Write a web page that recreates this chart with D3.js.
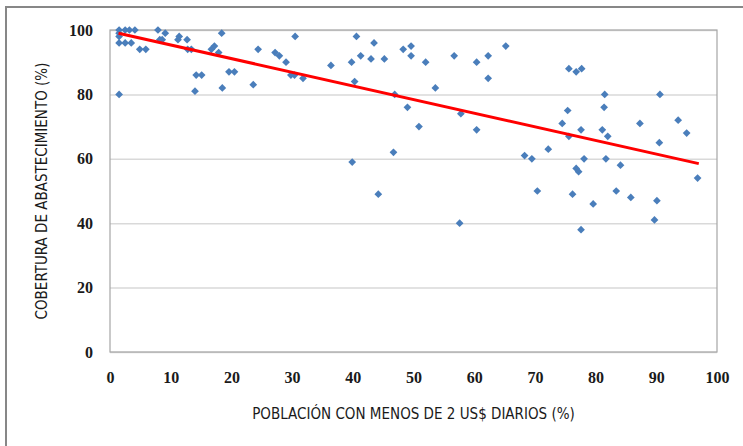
<html>
  <head>
    <title>Cobertura vs pobreza</title>
  <style type="text/css">
    body{
      margin: 0;
      background: white;
    }
    .tick_label{
      font-family: "Liberation Serif", serif;
      font-weight: bold;
      font-size: 16px;
      fill: #1a1a1a;
    }
    .axis_title{
      font-family: "Liberation Sans Narrow", "DejaVu Sans Condensed", sans-serif;
      font-size: 15px;
      fill: #1a1a1a;
    }
  </style>
  </head>
  <body>
    <script src="https://d3js.org/d3.v7.min.js"></script>
    <div id="graph_item"></div>
    <script>

// values
var pobreza = [1.5, 2.5, 3.2, 4.1, 1.5, 1.5, 1.5, 2.5, 3.5, 1.5,
  4.9, 5.9, 7.9, 9.1, 8.2, 8.6, 11.4, 11.2, 12.7, 12.8,
  13.4, 14.2, 15.1, 14.0, 17.2, 16.7, 17.9, 18.4, 18.5, 19.6,
  20.5, 23.6, 24.4, 27.2, 27.9, 29.0, 29.8, 30.4, 30.5, 31.8,
  36.4, 40.6, 39.8, 41.3, 40.3, 43.5, 43.0, 45.2, 48.3, 49.6,
  49.6, 52.0, 46.9, 49.0, 50.9, 53.6, 39.9, 46.7, 44.2, 56.7,
  57.8, 60.4, 60.4, 62.3, 62.3, 65.2, 57.6, 75.6, 76.8, 77.7,
  81.5, 90.6, 75.4, 81.4, 74.5, 77.6, 75.6, 81.1, 82.0, 87.3,
  93.6, 95.0, 90.5, 72.2, 68.3, 69.5, 78.1, 81.7, 84.1, 76.8,
  77.2, 96.8, 70.4, 76.2, 83.4, 85.8, 90.1, 79.6, 89.7, 77.6];

var cobertura = [100, 100, 100, 100, 99, 98, 96, 96, 96, 80,
  94, 94, 100, 99, 97, 97, 98, 97, 97, 94,
  94, 86, 86, 81, 95, 94, 93, 99, 82, 87,
  87, 83, 94, 93, 92, 90, 86, 86, 98, 85,
  89, 98, 90, 92, 84, 96, 91, 91, 94, 95,
  92, 90, 80, 76, 70, 82, 59, 62, 49, 92,
  74, 90, 69, 92, 85, 95, 40, 88, 87, 88,
  80, 80, 75, 76, 71, 69, 67, 69, 67, 71,
  72, 68, 65, 63, 61, 60, 60, 60, 58, 57,
  56, 54, 50, 49, 50, 48, 47, 46, 41, 38];

// linear trend line end points
var trendX = [1.4, 97];
var trendY = [99, 58.5];

var xTicks = [0, 10, 20, 30, 40, 50, 60, 70, 80, 90, 100];
var yTicks = [0, 20, 40, 60, 80, 100];

var xTitle = "POBLACIÓN CON MENOS DE 2 US$ DIARIOS (%)";
var yTitle = "COBERTURA DE ABASTECIMIENTO (%)";

var data = pobreza.map(function(d, i){ return {x: d, y: cobertura[i]}; });
var trend = trendX.map(function(d, i){ return {x: d, y: trendY[i]}; });

var W = 743, H = 446;
var plot = {left: 110, right: 717, top: 30, bottom: 352};

var svg = d3.select("#graph_item")
  .append("svg")
    .attr("width", W)
    .attr("height", H);

// outer chart frame (right and bottom cut off)
svg.append("rect")
  .attr("x", 6).attr("y", 7)
  .attr("width", 900).attr("height", 600)
  .attr("fill", "none")
  .attr("stroke", "#878787")
  .attr("stroke-width", 2);

var x = d3.scaleLinear().domain([0, 100]).range([plot.left, plot.right]);
var y = d3.scaleLinear().domain([0, 100]).range([plot.bottom, plot.top]);

// horizontal gridlines
svg.append("g")
  .attr("transform", "translate(" + plot.left + ",0)")
  .call(d3.axisLeft(y).tickValues(yTicks).tickSize(-(plot.right - plot.left)).tickFormat(""))
  .call(g => g.select(".domain").remove())
  .call(g => g.selectAll("line").attr("stroke", "#d9d9d9").attr("stroke-width", 1.5));

// plot area box
svg.append("rect")
  .attr("x", plot.left).attr("y", plot.top)
  .attr("width", plot.right - plot.left).attr("height", plot.bottom - plot.top)
  .attr("fill", "none")
  .attr("stroke", "#a6a6a6")
  .attr("stroke-width", 1.2);

// y tick labels
svg.append("g")
  .attr("transform", "translate(" + plot.left + ",0)")
  .call(d3.axisLeft(y).tickValues(yTicks).tickSize(0).tickPadding(17))
  .call(g => g.select(".domain").remove())
  .call(g => g.selectAll("text").attr("class", "tick_label").attr("font-family", null).attr("font-size", null));

// x tick labels
svg.append("g")
  .attr("transform", "translate(0," + plot.bottom + ")")
  .call(d3.axisBottom(x).tickValues(xTicks).tickSize(0).tickPadding(20))
  .call(g => g.select(".domain").remove())
  .call(g => g.selectAll("text").attr("class", "tick_label").attr("font-family", null).attr("font-size", null));

// points
svg.append("g")
  .selectAll("path")
  .data(data)
  .join("path")
    .attr("d", d3.symbol(d3.symbolSquare, 30))
    .attr("transform", function(d){ return "translate(" + x(d.x) + "," + y(d.y) + ") rotate(45)"; })
    .attr("fill", "#4a7ebb");

// trend line
svg.append("path")
  .datum(trend)
  .attr("fill", "none")
  .attr("stroke", "#ff0000")
  .attr("stroke-width", 3)
  .attr("d", d3.line().x(d => x(d.x)).y(d => y(d.y)));

// axis titles
svg.append("text")
  .attr("class", "axis_title")
  .attr("x", (plot.left + plot.right) / 2)
  .attr("y", 419)
  .attr("text-anchor", "middle")
  .text(xTitle);

svg.append("text")
  .attr("class", "axis_title")
  .attr("transform", "translate(47," + (plot.top + plot.bottom) / 2 + ") rotate(-90)")
  .attr("text-anchor", "middle")
  .text(yTitle);

</script>
  </body>
</html>
